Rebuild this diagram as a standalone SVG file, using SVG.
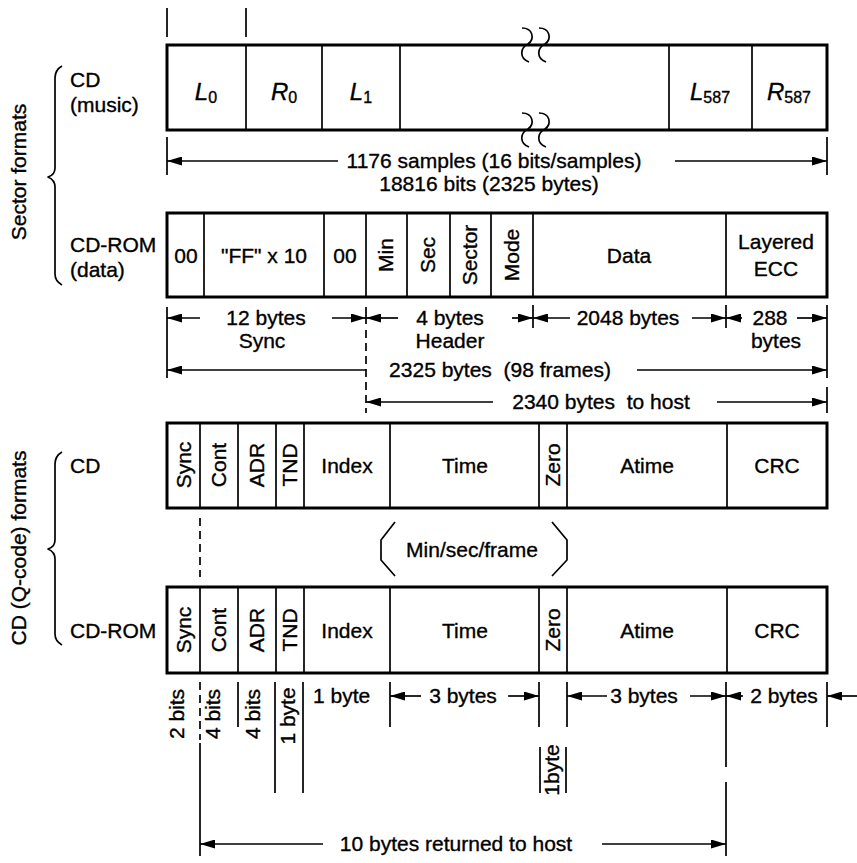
<svg xmlns="http://www.w3.org/2000/svg" width="857" height="863" viewBox="0 0 857 863">
<style>
.box{fill:#fff;stroke:#000;stroke-width:3}
.dv{stroke:#000;stroke-width:1.7;fill:none}
.t{font-family:"Liberation Sans",Arial,sans-serif;font-size:21px;fill:#000;stroke:#000;stroke-width:0.35}
.m{text-anchor:middle}
.it{font-style:italic;font-size:24px}
.sub{font-size:16px}
.dim{stroke:#000;stroke-width:1.7;fill:none}
.arr{stroke:#000;stroke-width:1.7;fill:none;marker-end:url(#ah)}
.dash{stroke:#000;stroke-width:1.7;fill:none;stroke-dasharray:8 5}
.br{stroke:#000;stroke-width:1.7;fill:none;stroke-linejoin:round}
</style>
<defs>
<marker id="ah" markerWidth="15" markerHeight="9" refX="15" refY="4.5" orient="auto" markerUnits="userSpaceOnUse">
<path d="M0,0 L15,4.5 L0,9 z" fill="#000"/>
</marker>
</defs>
<rect width="857" height="863" fill="#fff"/>

<g id="group-labels">
<text class="t m" transform="translate(26,172) rotate(-90)">Sector formats</text>
<path class="br" d="M62,66 Q55,70 55,78 L55,168 Q55,175 48,177 Q55,180 55,187 L55,274 Q55,281 62,285"/>
<text class="t" x="70" y="87">CD</text>
<text class="t" x="70" y="112">(music)</text>
<text class="t" x="70" y="252">CD-ROM</text>
<text class="t" x="70" y="277">(data)</text>
<text class="t m" transform="translate(26,548) rotate(-90)">CD (Q-code) formats</text>
<path class="br" d="M62,452 Q55,456 55,464 L55,540 Q55,547 48,549 Q55,552 55,559 L55,634 Q55,641 62,645"/>
<text class="t" x="70" y="473">CD</text>
<text class="t" x="70" y="638">CD-ROM</text>
</g>

<g id="cd-music-sector">
<rect class="box" x="167" y="45" width="660" height="85"/>
<path class="dv" d="M246,45V130M322,45V130M400,45V130M669,45V130M752,45V130"/>
<path class="dv" d="M522,28 C533,28 535,39 528,44 C520,48 519,58 529,62" stroke-width="2"/>
<path class="dv" d="M539,28 C550,28 552,39 545,44 C537,48 536,58 546,62" stroke-width="2"/>
<path class="dv" d="M522,113 C533,113 535,124 528,129 C520,133 519,143 529,147" stroke-width="2"/>
<path class="dv" d="M539,113 C550,113 552,124 545,129 C537,133 536,143 546,147" stroke-width="2"/>
<text class="t m" x="206" y="100"><tspan class="it">L</tspan><tspan class="sub" dy="3">0</tspan></text>
<text class="t m" x="284" y="100"><tspan class="it">R</tspan><tspan class="sub" dy="3">0</tspan></text>
<text class="t m" x="361" y="100"><tspan class="it">L</tspan><tspan class="sub" dy="3">1</tspan></text>
<text class="t m" x="710" y="100"><tspan class="it">L</tspan><tspan class="sub" dy="3">587</tspan></text>
<text class="t m" x="789" y="100"><tspan class="it">R</tspan><tspan class="sub" dy="3">587</tspan></text>
</g>

<g id="cd-rom-sector">
<rect class="box" x="167" y="213" width="660" height="84"/>
<path class="dv" d="M204,213V297M324,213V297M366,213V297M407,213V297M450,213V297M491,213V297M533,213V297M726,213V297"/>
<text class="t m" x="186" y="263">00</text>
<text class="t m" x="264" y="263">"FF" x 10</text>
<text class="t m" x="345" y="263">00</text>
<text class="t m" transform="translate(393,255) rotate(-90)">Min</text>
<text class="t m" transform="translate(435,255) rotate(-90)">Sec</text>
<text class="t m" transform="translate(477,255) rotate(-90)">Sector</text>
<text class="t m" transform="translate(519,255) rotate(-90)">Mode</text>
<text class="t m" x="629" y="263">Data</text>
<text class="t m" x="776" y="249">Layered</text>
<text class="t m" x="776" y="276">ECC</text>
</g>

<g id="cd-qcode">
<rect class="box" x="167" y="423" width="660" height="85"/>
<path class="dv" d="M200,423V508M238,423V508M276,423V508M304,423V508M390,423V508M539,423V508M567,423V508M727,423V508"/>
<text class="t m" transform="translate(191,465) rotate(-90)">Sync</text>
<text class="t m" transform="translate(226,465) rotate(-90)">Cont</text>
<text class="t m" transform="translate(264,465) rotate(-90)">ADR</text>
<text class="t m" transform="translate(297,465) rotate(-90)">TND</text>
<text class="t m" x="347" y="473">Index</text>
<text class="t m" x="465" y="473">Time</text>
<text class="t m" transform="translate(560,465) rotate(-90)">Zero</text>
<text class="t m" x="647" y="473">Atime</text>
<text class="t m" x="777" y="473">CRC</text>
</g>

<g id="min-sec-frame">
<path class="br" d="M395,522 L381,540 L381,560 L395,576"/>
<path class="br" d="M552,522 L567,540 L567,560 L552,576"/>
<text class="t m" x="472" y="557">Min/sec/frame</text>
</g>

<g id="cd-rom-qcode">
<rect class="box" x="167" y="587" width="660" height="86"/>
<path class="dv" d="M200,587V673M238,587V673M276,587V673M304,587V673M390,587V673M539,587V673M567,587V673M727,587V673"/>
<text class="t m" transform="translate(191,630) rotate(-90)">Sync</text>
<text class="t m" transform="translate(226,630) rotate(-90)">Cont</text>
<text class="t m" transform="translate(264,630) rotate(-90)">ADR</text>
<text class="t m" transform="translate(297,630) rotate(-90)">TND</text>
<text class="t m" x="347" y="638">Index</text>
<text class="t m" x="465" y="638">Time</text>
<text class="t m" transform="translate(560,630) rotate(-90)">Zero</text>
<text class="t m" x="647" y="638">Atime</text>
<text class="t m" x="777" y="638">CRC</text>
</g>

<g id="connectors">
<path class="dim" d="M167,8V37M246,8V37" stroke-width="2"/>
<path class="dim" d="M167,137V175M827,137V175"/>
<line class="arr" x1="338" y1="161" x2="167" y2="161"/>
<line class="arr" x1="675" y1="161" x2="827" y2="161"/>
<path class="dim" d="M167,307V378M366,307V324M533,305V328M726,305V328M827,305V378M827,387V413"/>
<line class="dash" x1="366" y1="330" x2="366" y2="413"/>
<line class="arr" x1="200" y1="318" x2="167" y2="318"/>
<line class="arr" x1="332" y1="318" x2="366" y2="318"/>
<line class="arr" x1="398" y1="318" x2="366" y2="318"/>
<line class="arr" x1="512" y1="318" x2="533" y2="318"/>
<line class="arr" x1="570" y1="318" x2="533" y2="318"/>
<line class="arr" x1="692" y1="318" x2="726" y2="318"/>
<line class="arr" x1="742" y1="318" x2="726" y2="318"/>
<line class="arr" x1="797" y1="318" x2="827" y2="318"/>
<line class="arr" x1="366" y1="370" x2="167" y2="370"/>
<line class="arr" x1="637" y1="370" x2="827" y2="370"/>
<line class="arr" x1="493" y1="402" x2="366" y2="402"/>
<line class="arr" x1="717" y1="402" x2="827" y2="402"/>
<line class="dash" x1="200" y1="518" x2="200" y2="577"/>
<line class="dash" x1="200" y1="682" x2="200" y2="740"/>
<path class="dim" d="M200,743V856M238,682V727M275,682V793M303,682V793M390,682V727M539,682V727M567,682V727M726,682V767M726,782V856M827,682V727M540,747V793M566,747V793"/>
<line class="arr" x1="421" y1="696" x2="390" y2="696"/>
<line class="arr" x1="508" y1="696" x2="539" y2="696"/>
<line class="arr" x1="607" y1="696" x2="567" y2="696"/>
<line class="arr" x1="690" y1="696" x2="726" y2="696"/>
<line class="arr" x1="743" y1="696" x2="726" y2="696"/>
<line class="arr" x1="857" y1="696" x2="827" y2="696"/>
<line class="arr" x1="323" y1="844" x2="200" y2="844"/>
<line class="arr" x1="602" y1="844" x2="726" y2="844"/>
</g>

<g id="dimension-labels">
<text class="t m" x="494" y="168">1176 samples (16 bits/samples)</text>
<text class="t m" x="489" y="191">18816 bits (2325 bytes)</text>
<text class="t m" x="266" y="325">12 bytes</text>
<text class="t m" x="262" y="348">Sync</text>
<text class="t m" x="450" y="325">4 bytes</text>
<text class="t m" x="450" y="348">Header</text>
<text class="t m" x="628" y="325">2048 bytes</text>
<text class="t m" x="770" y="325">288</text>
<text class="t m" x="776" y="348">bytes</text>
<text class="t m" x="500" y="377" xml:space="preserve">2325 bytes  (98 frames)</text>
<text class="t m" x="601" y="409" xml:space="preserve">2340 bytes  to host</text>
<text class="t m" transform="translate(184,714) rotate(-90)">2 bits</text>
<text class="t m" transform="translate(220,714) rotate(-90)">4 bits</text>
<text class="t m" transform="translate(260,714) rotate(-90)">4 bits</text>
<text class="t m" transform="translate(295,716) rotate(-90)">1 byte</text>
<text class="t" x="313" y="703">1 byte</text>
<text class="t m" x="463" y="703">3 bytes</text>
<text class="t m" x="644" y="703">3 bytes</text>
<text class="t m" x="784" y="703">2 bytes</text>
<text class="t m" transform="translate(559,770) rotate(-90)">1byte</text>
<text class="t m" x="456" y="851">10 bytes returned to host</text>
</g>
</svg>
